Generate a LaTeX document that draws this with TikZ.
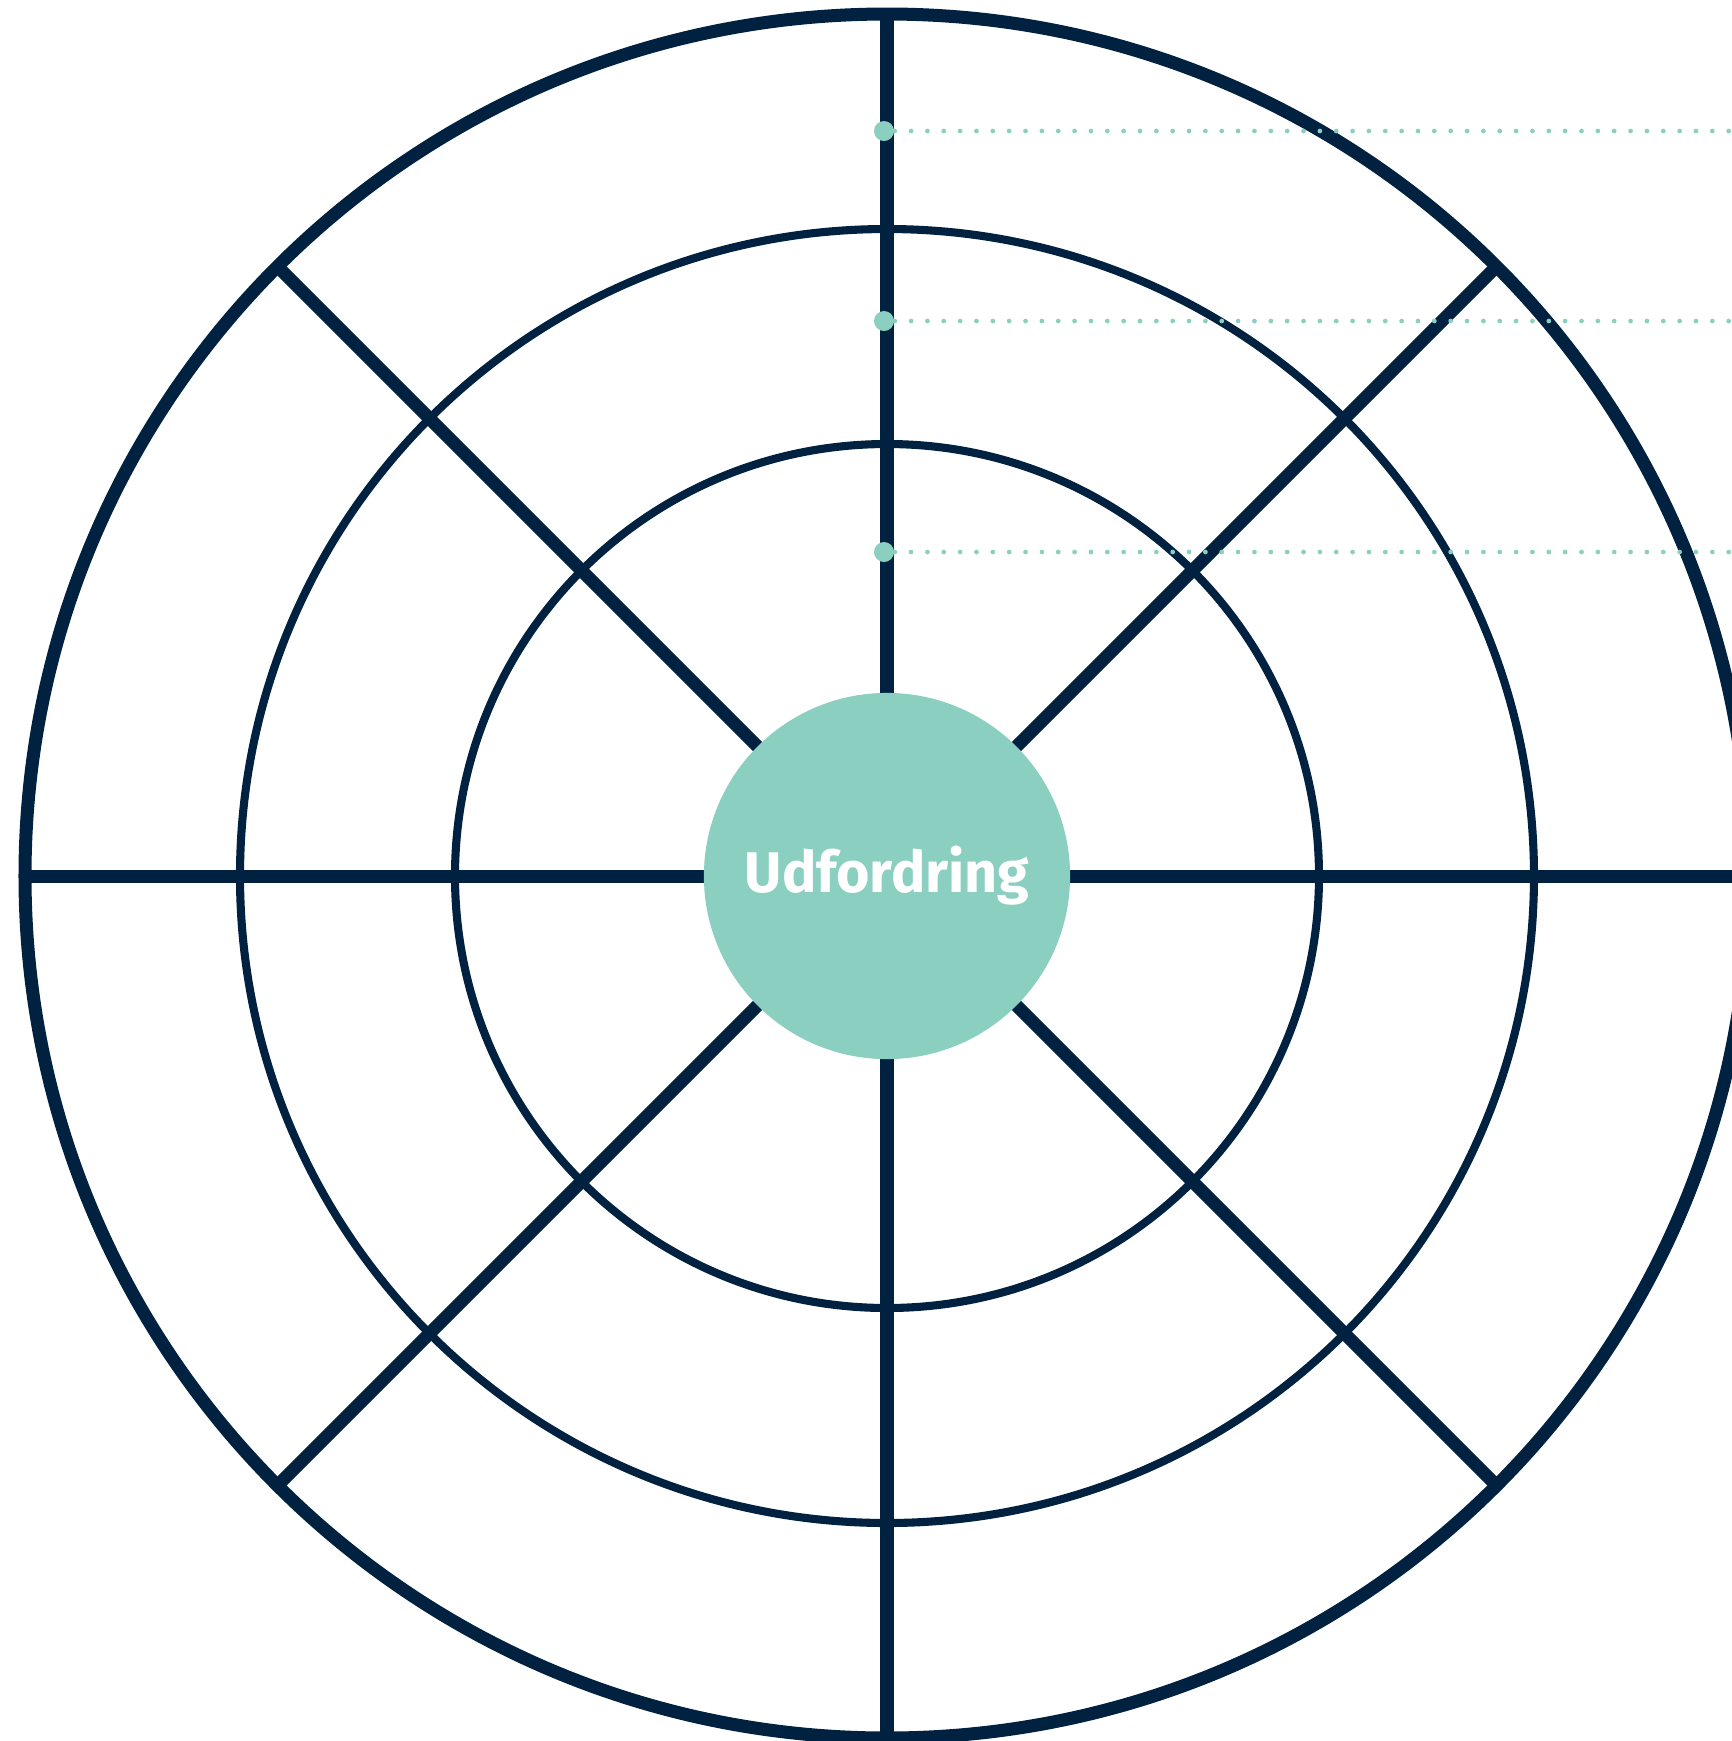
\documentclass[tikz,border=0pt]{standalone}
\usepackage{fontspec}
\setsansfont{Fira Sans}
\definecolor{navy}{HTML}{002140}
\definecolor{mint}{HTML}{8ACFC0}
\begin{document}
\begin{tikzpicture}
  [x=0.01cm,y=-0.01cm,
   ring/.style={draw=navy,line width=2.3pt},
   spoke/.style={draw=navy,line width=3.7pt},
   guide/.style={draw=mint,line width=1.35pt,line cap=round,dash pattern=on 0pt off 4.65pt},
   every node/.style={circle}]
  \useasboundingbox (0,0) rectangle (1732,1741);
  \clip (0,0) rectangle (1732,1741);
  \coordinate (c) at (887,876);
  \draw[navy,line width=3.7pt] (c) circle (862);
  \draw[ring] (c) circle (647);
  \draw[ring] (c) circle (432);
  \foreach \a in {0,45,...,315}
    \draw[spoke] (c) -- ++(\a:862);
  \draw[spoke] (c) -- (1760,876);
  \node (hub)[fill=mint,minimum size=3.66cm,inner sep=0pt] at (c)
    {\sffamily\bfseries\fontsize{16.3}{19}\selectfont\color{white}Udfordring};
  \foreach \y/\n in {131/d1,321/d2,552/d3} {
    \node (\n)[fill=mint,minimum size=0.2cm,inner sep=0pt] at (884,\y) {};
    \draw[guide] (\n) -- (1740,\y);
  }
\end{tikzpicture}
\end{document}
